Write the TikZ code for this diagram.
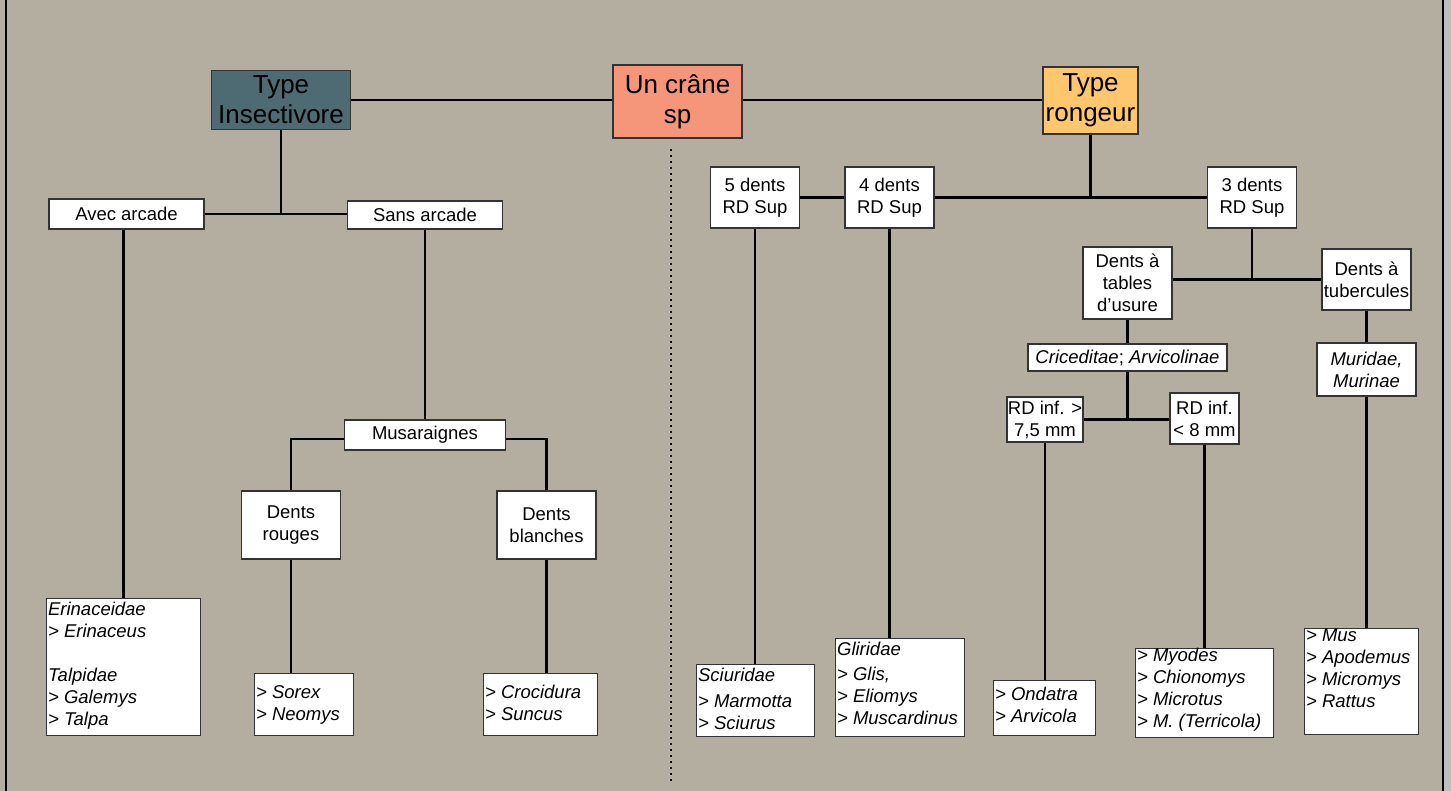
\documentclass[tikz,border=0pt]{standalone}
\usepackage{fontspec}
\setmainfont{Liberation Sans}
\definecolor{bgtan}{HTML}{B3AEA0}
\definecolor{edgegray}{HTML}{BEBEBE}
\definecolor{insect}{HTML}{4E6B73}
\definecolor{cranefill}{HTML}{F5967A}
\definecolor{rongfill}{HTML}{FEC76E}
\newcommand\leaftext[4]{\parbox[c][#2pt][t]{#1pt}{\raggedright\vspace*{#3pt}#4}}
\begin{document}
\begin{tikzpicture}[x=1pt,y=-1pt,
  conn/.style={line width=2.8pt, black},
  frameline/.style={line width=2pt, black},
  dotline/.style={line width=2pt, black, dash pattern=on 2pt off 4pt},
  topbox/.style={draw=black!80, line width=1.2pt, inner sep=0pt, align=center,
    font=\fontsize{26}{30}\selectfont},
  wbox/.style={draw=black!80, line width=1.2pt, fill=white, inner sep=0pt, align=center,
    font=\fontsize{18.5}{22}\selectfont},
  leafbox/.style={draw=black!80, line width=1.2pt, fill=white, inner xsep=1.5pt, inner ysep=0pt,
    anchor=north west, font=\fontsize{18.5}{22}\selectfont\itshape},
  sz/.style 2 args={minimum width=#1pt, minimum height=#2pt}
]
\useasboundingbox (0,0) rectangle (1451,791);
\fill[bgtan] (0,0) rectangle (1451,791);
\fill[edgegray] (1444,0) rectangle (1451,791);
\draw[frameline] (6,0) -- (6,791);
\draw[frameline] (1443,0) -- (1443,791);

% top level
\node[topbox, fill=insect, sz={139}{59}] (ins) at (281,100) {Type\\Insectivore};
\node[topbox, fill=cranefill, sz={129}{73}] (crane) at (677.5,101.5) {Un crâne\\sp};
\node[topbox, fill=rongfill, sz={95}{67}] (rong) at (1090.5,100.5) {Type\\rongeur};

% insectivore side
\node[wbox, sz={155}{30}] (avec) at (126.5,214) {Avec arcade};
\node[wbox, sz={155}{28}] (sans) at (425,215) {Sans arcade};
\node[wbox, sz={161}{30}] (musa) at (425,435) {Musaraignes};
\node[wbox, sz={99}{68}] (rouges) at (291,525) {Dents\\rouges};
\node[wbox, sz={99}{68}] (blanches) at (546.5,525) {Dents\\blanches};

\node[leafbox] (erin) at (46,598) {\leaftext{151}{137}{1.6}{\strut Erinaceidae\\ \strut> Erinaceus\\[22pt] \strut Talpidae\\ \strut> Galemys\\ \strut> Talpa}};
\node[leafbox] (sorex) at (254,673) {\leaftext{96}{62}{9.3}{\strut> Sorex\\ \strut> Neomys}};
\node[leafbox] (croc) at (483,673) {\leaftext{111}{62}{9.3}{\strut> Crocidura\\ \strut> Suncus}};

% rongeur side
\node[wbox, sz={89}{61}] (d5) at (755,197.5) {5 dents\\RD Sup};
\node[wbox, sz={89}{61}] (d4) at (889.5,197.5) {4 dents\\RD Sup};
\node[wbox, sz={89}{61}] (d3) at (1252,197.5) {3 dents\\RD Sup};
\node[wbox, sz={89}{72}] (tables) at (1127.5,283) {Dents à\\tables\\d’usure};
\node[wbox, sz={89}{61}] (tuber) at (1366.5,279.5) {Dents à\\tubercules};
\node[wbox, sz={199}{27}] (cric) at (1127.5,357.5) {\textit{Criceditae}; \textit{Arvicolinae}};
\node[wbox, sz={76}{45}] (rdsup) at (1045,419.5) {RD inf. >\\7,5 mm};
\node[wbox, sz={69}{51}] (rdinf) at (1204.5,418.5) {RD inf.\\< 8 mm};
\node[wbox, sz={99}{53}, font=\fontsize{18.5}{22}\selectfont\itshape] (murid) at (1366.5,369.5) {Muridae,\\Murinae};

\node[leafbox] (sciur) at (696,664) {\leaftext{115}{72}{1.6}{\strut Sciuridae\\[3.5pt] \strut> Marmotta\\ \strut> Sciurus}};
\node[leafbox] (glir) at (835,638) {\leaftext{126}{98}{1.6}{\strut Gliridae\\[3pt] \strut> Glis,\\ \strut> Eliomys\\ \strut> Muscardinus}};
\node[leafbox] (ondat) at (993,680) {\leaftext{99}{55}{4.6}{\strut> Ondatra\\ \strut> Arvicola}};
\node[leafbox] (myod) at (1135,648) {\leaftext{135}{89}{-2.4}{\strut> Myodes\\ \strut> Chionomys\\ \strut> Microtus\\ \strut> M. (Terricola)}};
\node[leafbox] (mus) at (1304,628) {\leaftext{111}{106}{-2.4}{\strut> Mus\\ \strut> Apodemus\\ \strut> Micromys\\ \strut> Rattus}};

% dotted separator
\coordinate (dtop) at (671,149);
\coordinate (dbot) at (671,782);
\draw[dotline] (dtop) -- (dbot);

% connectors
\draw[conn] (ins.east) -- (ins.east -| crane.west);
\draw[conn] (ins.east -| crane.east) -- (ins.east -| rong.west);

\draw[conn] (ins.south) -- (ins.south |- avec.east);
\draw[conn] (avec.east) -- (avec.east -| sans.west);
\draw[conn] (erin.north |- avec.south) -- (erin.north);
\draw[conn] (sans.south) -- (musa.north);
\draw[conn] ([yshift=-4pt]musa.west) -| (rouges.north);
\draw[conn] ([yshift=-4pt]musa.east) -| (blanches.north);
\draw[conn] (rouges.south) -- (rouges.south |- sorex.north);
\draw[conn] (blanches.south) -- (blanches.south |- croc.north);

\draw[conn] (rong.south) -- (rong.south |- d4.east);
\draw[conn] (d5.east) -- (d4.west);
\draw[conn] (d4.east) -- (d3.west);
\draw[conn] (d5.south) -- (d5.south |- sciur.north);
\draw[conn] (d4.south) -- (d4.south |- glir.north);
\draw[conn] (d3.south) -- (d3.south |- tuber.west);
\draw[conn] (tables.east |- tuber.west) -- (tuber.west);
\draw[conn] (tables.south) -- (cric.north);
\draw[conn] (cric.south) -- (cric.south |- rdsup.east);
\draw[conn] (rdsup.east) -- (rdsup.east -| rdinf.west);
\draw[conn] (rdsup.south) -- (rdsup.south |- ondat.north);
\draw[conn] (rdinf.south) -- (rdinf.south |- myod.north);
\draw[conn] (tuber.south) -- (murid.north);
\draw[conn] (murid.south) -- (murid.south |- mus.north);
\end{tikzpicture}
\end{document}
